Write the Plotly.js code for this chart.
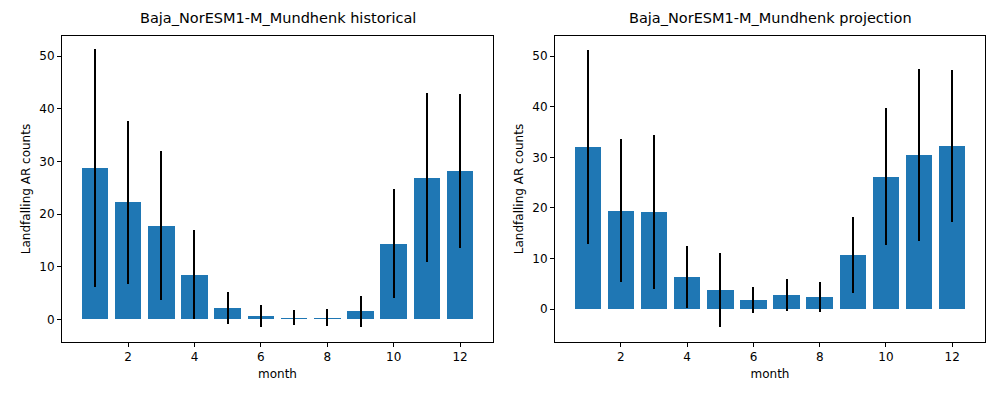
<!DOCTYPE html>
<html><head><meta charset="utf-8">
<script src="https://cdn.plot.ly/plotly-3.0.1.min.js"></script>
<style>body{margin:0}#c{width:1000px;height:400px}</style></head>
<body><div id="c"></div>
<script>
const months = [1,2,3,4,5,6,7,8,9,10,11,12];
const histMean = [28.8,22.2,17.8,8.5,2.1,0.6,0.3,0.3,1.5,14.4,26.9,28.2];
const histErr  = [22.6,15.5,14.2,8.4,3.0,2.1,1.4,1.6,2.9,10.4,16.1,14.6];
const projMean = [32.0,19.5,19.2,6.3,3.75,1.8,2.8,2.4,10.7,26.2,30.5,32.3];
const projErr  = [19.2,14.1,15.2,6.1,7.3,2.5,3.2,2.9,7.5,13.6,17.0,15.0];
const blue = '#1f77b4';
function bar(y, e, xa, ya){
  return {type:'bar', x:months, y:y, xaxis:xa, yaxis:ya, width:0.8,
    marker:{color:blue}, showlegend:false,
    error_y:{type:'data', array:e, visible:true, color:'black', thickness:2, width:0}};
}
const font = {family:'DejaVu Sans', size:12, color:'black'};
function ax(dom, anchor, range, title, ticks){
  return {domain:dom, anchor:anchor, range:range, showgrid:false, zeroline:false,
    showline:true, mirror:true, linecolor:'black', linewidth:1, ticks:'outside',
    ticklen:4, tickcolor:'black', tickfont:font, tickvals:ticks,
    title:{text:title, font:font, standoff:6}};
}
const layout = {
  width:1000, height:400, margin:{l:0,r:0,t:0,b:0}, paper_bgcolor:'white', plot_bgcolor:'white',
  font:font, bargap:0,
  xaxis: ax([0.062,0.493],'y',[0.01,12.99],'month',[2,4,6,8,10,12]),
  yaxis: ax([0.145,0.91],'x',[-4.3,53.8],'Landfalling AR counts',[0,10,20,30,40,50]),
  xaxis2: ax([0.555,0.985],'y2',[0.01,12.99],'month',[2,4,6,8,10,12]),
  yaxis2: ax([0.145,0.91],'x2',[-6.5,54],'Landfalling AR counts',[0,10,20,30,40,50]),
  annotations:[
    {text:'Baja_NorESM1-M_Mundhenk historical', xref:'paper', yref:'paper', x:0.2775, y:0.93, xanchor:'center', yanchor:'bottom', showarrow:false, font:{family:'DejaVu Sans', size:14.5, color:'black'}},
    {text:'Baja_NorESM1-M_Mundhenk projection', xref:'paper', yref:'paper', x:0.77, y:0.93, xanchor:'center', yanchor:'bottom', showarrow:false, font:{family:'DejaVu Sans', size:14.5, color:'black'}}
  ]
};
Plotly.newPlot('c', [bar(histMean,histErr,'x','y'), bar(projMean,projErr,'x2','y2')], layout, {staticPlot:true});
</script></body></html>
